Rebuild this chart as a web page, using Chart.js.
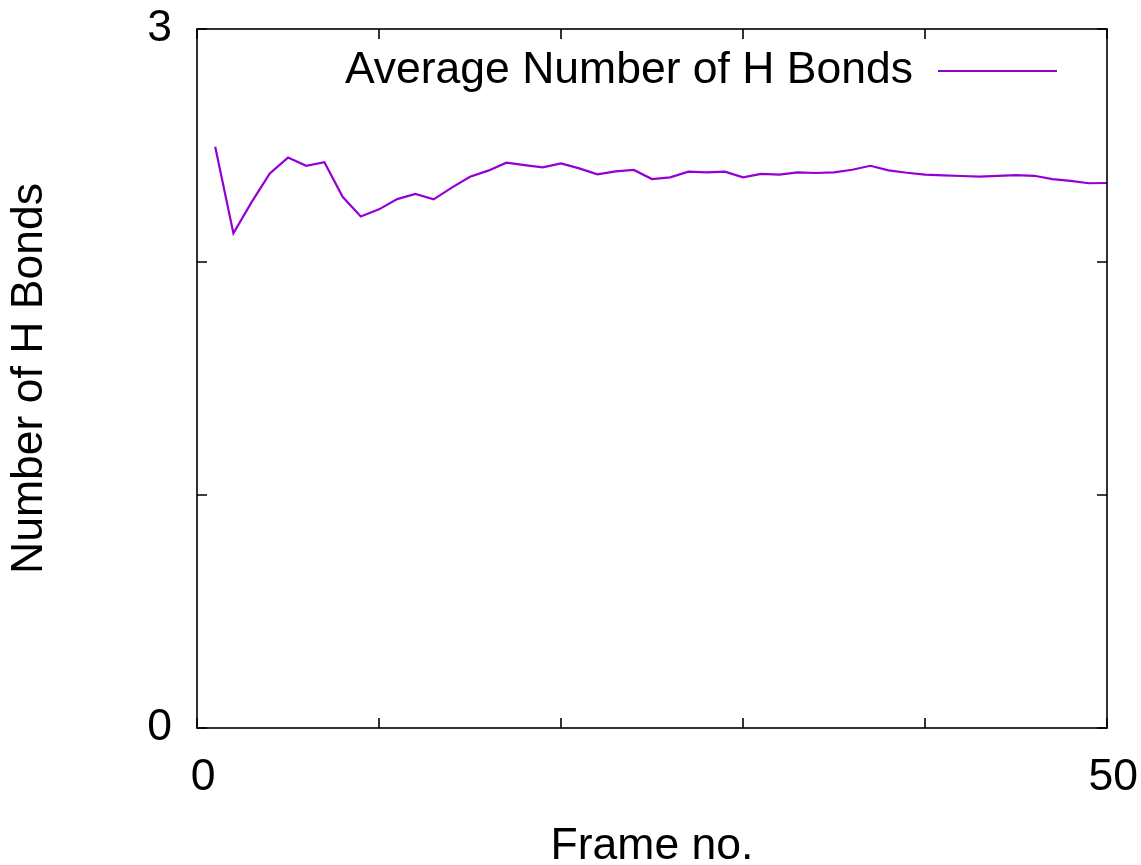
<!DOCTYPE html>
<html>
<head>
<meta charset="utf-8">
<title>Average Number of H Bonds</title>
<script src="https://cdn.jsdelivr.net/npm/chart.js@4/dist/chart.umd.min.js"></script>
<style>
  html, body { margin: 0; padding: 0; background: #ffffff; }
  #wrap { width: 1141px; height: 865px; position: relative; }
  canvas { display: block; }
</style>
</head>
<body>
<div id="wrap"><canvas id="chart" width="1141" height="865"></canvas></div>
<script>
// Frame numbers along the trajectory
const frames = [
  1, 2, 3, 4, 5, 6, 7, 8, 9, 10,
  11, 12, 13, 14, 15, 16, 17, 18, 19, 20,
  21, 22, 23, 24, 25, 26, 27, 28, 29, 30,
  31, 32, 33, 34, 35, 36, 37, 38, 39, 40,
  41, 42, 43, 44, 45, 46, 47, 48, 49, 50
];

// Running average of hydrogen bonds per frame
const avgHBonds = [
  2.495, 2.123, 2.257, 2.380, 2.448, 2.413, 2.428, 2.280, 2.195, 2.226,
  2.270, 2.292, 2.269, 2.319, 2.366, 2.392, 2.426, 2.416, 2.406, 2.423,
  2.402, 2.376, 2.389, 2.395, 2.356, 2.363, 2.388, 2.385, 2.388, 2.363,
  2.378, 2.375, 2.385, 2.382, 2.385, 2.396, 2.413, 2.393, 2.383, 2.375,
  2.372, 2.369, 2.366, 2.370, 2.373, 2.370, 2.356, 2.348, 2.338, 2.339
];

const seriesLabel = 'Average Number of H Bonds';
const xTitle = 'Frame no.';
const yTitle = 'Number of H Bonds';

// Only the axis end values carry labels; the other ticks are bare marks
const xLabeledTicks = [0, 50];
const yLabeledTicks = [0, 3];

const FONT = '"Liberation Sans", Arial, Helvetica, sans-serif';
const LINE_COLOR = '#9400d3';

// Closed frame with inward tick marks on all four sides, plus a gnuplot-style key
const framePlugin = {
  id: 'frameAndKey',
  afterDraw(chart) {
    const { ctx, chartArea: a, scales } = chart;
    const tick = 10;
    ctx.save();
    ctx.strokeStyle = '#000000';
    ctx.lineWidth = 1.6;
    ctx.strokeRect(a.left, a.top, a.right - a.left, a.bottom - a.top);

    ctx.beginPath();
    scales.x.ticks.forEach(t => {
      const px = scales.x.getPixelForValue(t.value);
      ctx.moveTo(px, a.bottom); ctx.lineTo(px, a.bottom - tick);
      ctx.moveTo(px, a.top);    ctx.lineTo(px, a.top + tick);
    });
    scales.y.ticks.forEach(t => {
      const py = scales.y.getPixelForValue(t.value);
      ctx.moveTo(a.left, py);  ctx.lineTo(a.left + tick, py);
      ctx.moveTo(a.right, py); ctx.lineTo(a.right - tick, py);
    });
    ctx.stroke();

    // key: label on the left, line sample on the right
    const ds = chart.data.datasets[0];
    const keyY = 71;
    const sampleLeft = 938, sampleRight = 1057;
    ctx.font = '44.5px ' + FONT;
    ctx.fillStyle = '#000000';
    ctx.textAlign = 'right';
    ctx.textBaseline = 'middle';
    ctx.fillText(ds.label, sampleLeft - 25, keyY);
    ctx.strokeStyle = ds.borderColor;
    ctx.lineWidth = ds.borderWidth;
    ctx.beginPath();
    ctx.moveTo(sampleLeft, keyY);
    ctx.lineTo(sampleRight, keyY);
    ctx.stroke();
    ctx.restore();
  }
};

new Chart(document.getElementById('chart'), {
  type: 'line',
  data: {
    datasets: [{
      label: seriesLabel,
      data: frames.map((f, i) => ({ x: f, y: avgHBonds[i] })),
      borderColor: LINE_COLOR,
      backgroundColor: LINE_COLOR,
      borderWidth: 2.2,
      pointRadius: 0,
      tension: 0,
      fill: false
    }]
  },
  options: {
    responsive: false,
    animation: false,
    devicePixelRatio: 1,
    layout: { padding: { top: 29, right: 34, left: 0, bottom: 0 } },
    plugins: {
      legend: { display: false },
      tooltip: { enabled: false }
    },
    scales: {
      x: {
        type: 'linear',
        min: 0,
        max: 50,
        grid: { display: false, drawTicks: false },
        border: { display: false },
        ticks: {
          stepSize: 10,
          autoSkip: false,
          maxRotation: 0,
          padding: 23,
          color: '#000000',
          font: { family: FONT, size: 44.5 },
          // a leading space nudges each label slightly right of its tick
          callback: v => xLabeledTicks.includes(v) ? ' ' + v : ''
        },
        title: {
          display: true,
          text: xTitle,
          color: '#000000',
          font: { family: FONT, size: 44.5, lineHeight: 1 },
          padding: { top: 0, bottom: -4 }
        },
        afterFit(scale) {
          scale.height = 137;
          scale.paddingLeft = 0;
          scale.paddingRight = 0;
        }
      },
      y: {
        type: 'linear',
        min: 0,
        max: 3,
        grid: { display: false, drawTicks: false },
        border: { display: false },
        ticks: {
          stepSize: 1,
          autoSkip: false,
          padding: 25,
          color: '#000000',
          font: { family: FONT, size: 44.5 },
          callback: v => yLabeledTicks.includes(v) ? String(v) : ''
        },
        title: {
          display: true,
          text: yTitle,
          color: '#000000',
          font: { family: FONT, size: 44.5 },
          padding: { top: 3, bottom: 0 }
        },
        afterFit(scale) {
          scale.width = 197;
          scale.paddingTop = 0;
          scale.paddingBottom = 0;
        }
      }
    }
  },
  plugins: [framePlugin]
});
</script>
</body>
</html>
